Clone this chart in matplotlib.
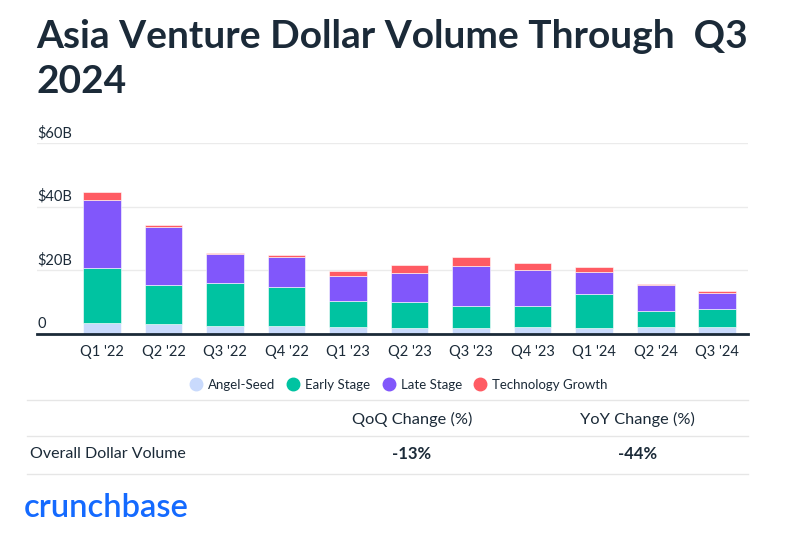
import matplotlib.pyplot as plt
import numpy as np
from matplotlib.lines import Line2D
from matplotlib import transforms

plt.rcParams['font.family'] = ['Lato', 'DejaVu Sans']

# values in $B
quarters = ["Q1 '22", "Q2 '22", "Q3 '22", "Q4 '22", "Q1 '23", "Q2 '23",
            "Q3 '23", "Q4 '23", "Q1 '24", "Q2 '24", "Q3 '24"]
angel_seed = [3.4, 3.0, 2.4, 2.4, 2.0, 1.7, 1.7, 2.0, 1.7, 2.0, 2.0]
early_stage = [17.2, 12.4, 13.5, 12.2, 8.2, 8.2, 6.9, 6.6, 10.7, 5.1, 5.7]
late_stage = [21.4, 18.2, 9.0, 9.6, 7.8, 9.0, 12.8, 11.5, 7.1, 8.1, 4.9]
tech_growth = [2.6, 0.5, 0.4, 0.6, 1.6, 2.6, 2.6, 2.2, 1.3, 0.4, 0.7]

series = ['Angel-Seed', 'Early Stage', 'Late Stage', 'Technology Growth']
colors = ['#c9dafc', '#00c3a1', '#8157fb', '#ff5b63']
yticks = [0, 20, 40, 60]
ytick_labels = ['0', '$20B', '$40B', '$60B']

col_headers = ['QoQ Change (%)', 'YoY Change (%)']
row_label = 'Overall Dollar Volume'
row_values = ['-13%', '-44%']

DARK = '#1b2a38'

fig = plt.figure(figsize=(7.92, 5.37), dpi=100)
W, H = 792, 537


def fx(px):
  return px / W


def fy(py):
  return 1 - py / H


fig.text(fx(36), fy(19), 'Asia Venture Dollar Volume Through  Q3\n2024',
         ha='left', va='top', fontsize=28, fontweight='bold', color=DARK,
         linespacing=1.33)

ax = fig.add_axes([fx(37), fy(333.5), fx(748) - fx(37), fy(143) - fy(333.5)])
x = np.arange(len(quarters))
bottom = np.zeros(len(quarters))
for name, vals, col in zip(series, [angel_seed, early_stage, late_stage, tech_growth], colors):
  ax.bar(x, vals, width=0.61, bottom=bottom, color=col, label=name,
         edgecolor='white', linewidth=0.4, zorder=3)
  bottom += np.array(vals)

ax.set_ylim(0, 60)
ax.set_xlim(-1.06, 10.5)
ax.set_yticks(yticks)
ax.set_yticklabels([])
ax.tick_params(axis='y', length=0)
ax.grid(axis='y', color='#ebebeb', linewidth=1, zorder=0)
ax.set_xticks(x)
ax.set_xticklabels(quarters, fontsize=10.5, color=DARK)
ax.tick_params(axis='x', length=0, pad=8)
for s in ['top', 'right', 'left']:
  ax.spines[s].set_visible(False)
ax.spines['bottom'].set_color(DARK)
ax.spines['bottom'].set_linewidth(2)
ax.spines['bottom'].set_zorder(4)

trans = transforms.blended_transform_factory(ax.transAxes, ax.transData)
for v, lab in zip(yticks, ytick_labels):
  ax.annotate(lab, (0, v), xycoords=trans, xytext=(0, 2),
              textcoords='offset points', ha='left', va='bottom',
              fontsize=10.5, color=DARK)

handles = [Line2D([], [], marker='o', linestyle='', markersize=9,
                  markerfacecolor=c, markeredgecolor=c) for c in colors]
fig.legend(handles, series, loc='center', bbox_to_anchor=(fx(399), fy(385)),
           ncol=4, frameon=False, fontsize=9.5, handletextpad=0.5,
           handlelength=0.8, columnspacing=1.0, labelcolor=DARK)

# table
for ly in [400, 436, 474]:
  fig.add_artist(Line2D([fx(27), fx(748)], [fy(ly), fy(ly)],
                        color='#e6e6e6', linewidth=1))
for cx, txt in zip([412, 637], col_headers):
  fig.text(fx(cx), fy(419), txt, ha='center', va='center', fontsize=11.8,
           color=DARK)
fig.text(fx(30), fy(454), row_label, ha='left', va='center', fontsize=11.5,
         color=DARK)
for cx, txt in zip([412, 638], row_values):
  fig.text(fx(cx), fy(454), txt, ha='center', va='center', fontsize=12,
           fontweight='bold', color=DARK)

fig.text(fx(24), fy(508), 'crunchbase', ha='left', va='center', fontsize=23.5,
         color='#146aff', fontweight='semibold')

fig.savefig('out.png', dpi=100)
